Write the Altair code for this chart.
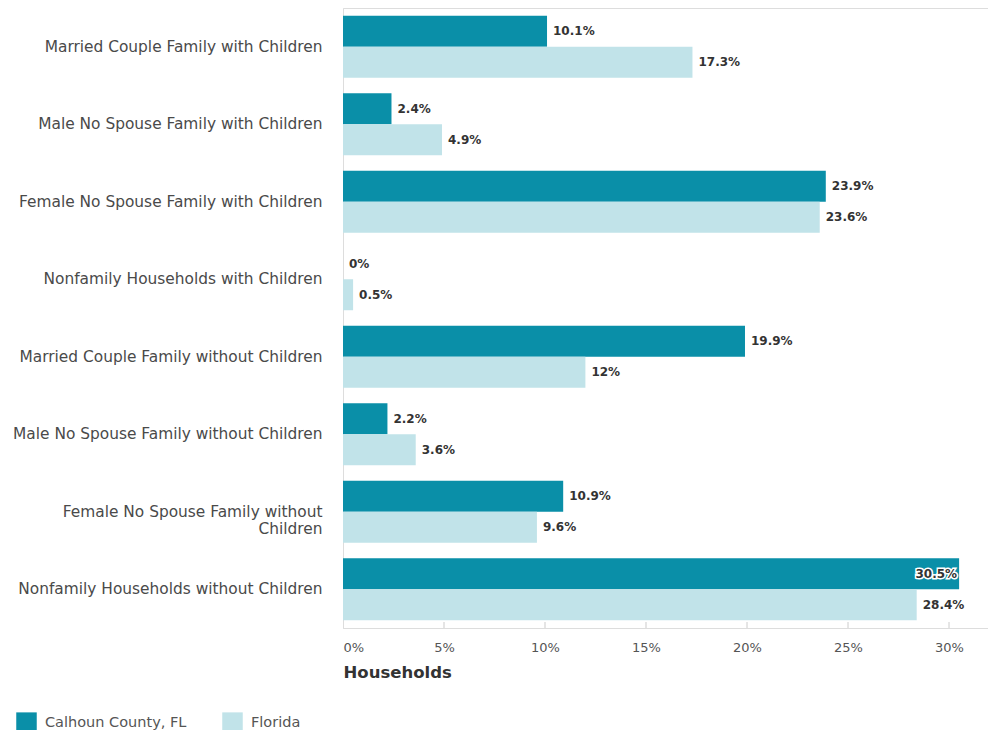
import altair as alt
import pandas as pd

categories = [
    "Married Couple Family with Children",
    "Male No Spouse Family with Children",
    "Female No Spouse Family with Children",
    "Nonfamily Households with Children",
    "Married Couple Family without Children",
    "Male No Spouse Family without Children",
    "Female No Spouse Family without Children",
    "Nonfamily Households without Children",
]
series_names = ["Calhoun County, FL", "Florida"]
calhoun = [10.1, 2.4, 23.9, 0.0, 19.9, 2.2, 10.9, 30.5]
florida = [17.3, 4.9, 23.6, 0.5, 12.0, 3.6, 9.6, 28.4]
tick_values = [0, 5, 10, 15, 20, 25, 30]
colors = ["#0a8fa8", "#c1e3e9"]

rows = []
for cat, a, b in zip(categories, calhoun, florida):
    rows.append({"category": cat, "series": series_names[0], "value": a})
    rows.append({"category": cat, "series": series_names[1], "value": b})
df = pd.DataFrame(rows)
df["inside"] = df["value"] >= 30
ticks_df = pd.DataFrame({"tick": tick_values[1:]})

W, H = 645, 620
FONT = "DejaVu Sans"
x_scale = alt.Scale(domain=[0, 31.93], nice=False)
y_scale = alt.Scale(paddingInner=0.2, paddingOuter=0.1)

base = alt.Chart(df)

bars = base.mark_bar().encode(
    x=alt.X(
        "value:Q",
        scale=x_scale,
        axis=alt.Axis(
            values=tick_values,
            labelExpr="datum.value + '%'",
            title="Households",
            titleAnchor="start",
            titleAlign="left",
            titleFontSize=16.5,
            titleFontWeight="bold",
            titleColor="#333333",
            titlePadding=10,
            labelFontSize=13,
            labelColor="#555555",
            labelPadding=13,
            ticks=False,
            grid=False,
            domainColor="#dddddd",
            labelFont=FONT,
            titleFont=FONT,
        ),
    ),
    y=alt.Y(
        "category:N",
        sort=categories,
        scale=y_scale,
        axis=alt.Axis(
            title=None,
            ticks=False,
            labelFontSize=15.4,
            labelColor="#4a4a4a",
            labelPadding=21,
            labelLimit=400,
            labelLineHeight=17,
            labelFont=FONT,
            domainColor="#dddddd",
            labelExpr="datum.label == 'Female No Spouse Family without Children' ? ['Female No Spouse Family without', 'Children'] : datum.label",
        ),
    ),
    yOffset=alt.YOffset("series:N", sort=series_names, scale=alt.Scale(paddingInner=0, paddingOuter=0)),
    color=alt.Color(
        "series:N",
        sort=series_names,
        scale=alt.Scale(domain=series_names, range=colors),
        legend=alt.Legend(
            title=None,
            orient="none",
            legendX=-327,
            legendY=704,
            direction="horizontal",
            symbolType="square",
            symbolSize=420,
            symbolStrokeWidth=0,
            labelFontSize=14.5,
            labelColor="#555555",
            labelFont=FONT,
            columnPadding=35,
            labelOffset=8,
        ),
    ),
)

label_calc = "format(datum.value, '.1~f') + '%'"

text_out = base.transform_filter("!datum.inside").transform_calculate(
    label=label_calc
).mark_text(
    align="left", baseline="middle", dx=6, fontSize=12, fontWeight="bold",
    color="#333333", font=FONT
).encode(
    x=alt.X("value:Q", scale=x_scale),
    y=alt.Y("category:N", sort=categories, scale=y_scale),
    yOffset=alt.YOffset("series:N", sort=series_names),
    text="label:N",
)

text_in_halo = base.transform_filter("datum.inside").transform_calculate(
    label=label_calc
).mark_text(
    align="right", baseline="middle", dx=-2, fontSize=12, fontWeight="bold",
    color="#ffffff", stroke="#ffffff", strokeWidth=3, font=FONT
).encode(
    x=alt.X("value:Q", scale=x_scale),
    y=alt.Y("category:N", sort=categories, scale=y_scale),
    yOffset=alt.YOffset("series:N", sort=series_names),
    text="label:N",
)

text_in = base.transform_filter("datum.inside").transform_calculate(
    label=label_calc
).mark_text(
    align="right", baseline="middle", dx=-2, fontSize=12, fontWeight="bold",
    color="#333333", font=FONT
).encode(
    x=alt.X("value:Q", scale=x_scale),
    y=alt.Y("category:N", sort=categories, scale=y_scale),
    yOffset=alt.YOffset("series:N", sort=series_names),
    text="label:N",
)

tick_rules = alt.Chart(ticks_df).mark_rule(color="#dddddd", strokeWidth=1.5).encode(
    x=alt.X("tick:Q", scale=x_scale),
    y=alt.value(H - 6),
    y2=alt.value(H),
)

chart = alt.layer(bars, tick_rules, text_out, text_in_halo, text_in).properties(
    width=W,
    height=H,
    autosize=alt.AutoSizeParams(type="none"),
    padding={"left": 335, "top": 0, "right": 0, "bottom": 102},
).configure_view(stroke=None).configure(font=FONT)

chart.save("out.html", embed_options={"renderer": "svg", "actions": False})
